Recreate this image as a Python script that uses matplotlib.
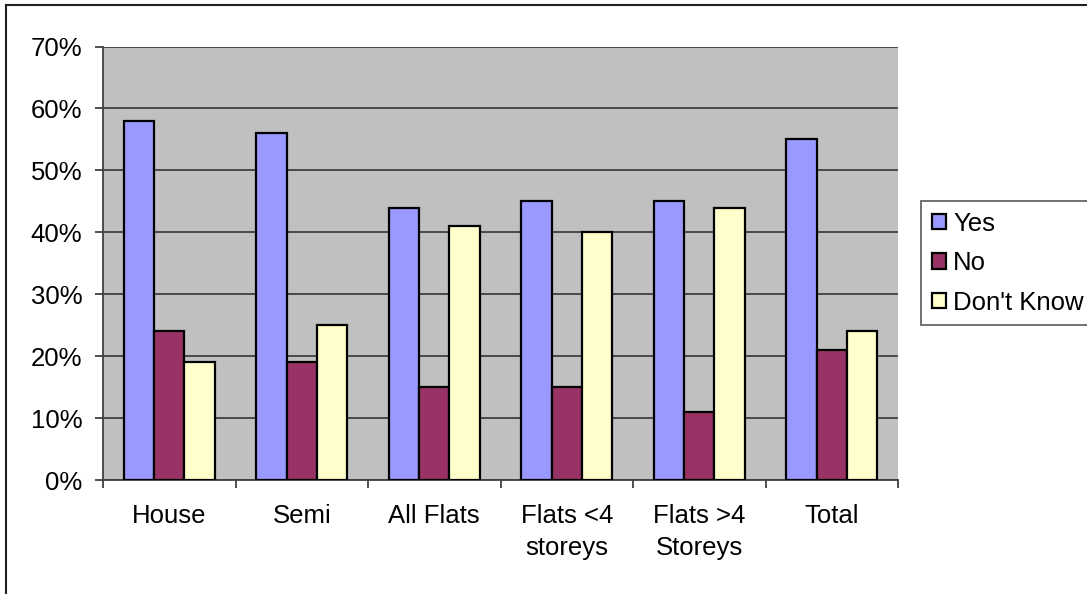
import numpy as np
import matplotlib.pyplot as plt
from matplotlib.patches import Rectangle
from matplotlib.ticker import FixedLocator, PercentFormatter

categories = ["House", "Semi", "All Flats", "Flats <4\nstoreys", "Flats >4\nStoreys", "Total"]
yes = [58, 56, 44, 45, 45, 55]
no = [24, 19, 15, 15, 11, 21]
dont_know = [19, 25, 41, 40, 44, 24]

plt.rcParams["font.family"] = ["Liberation Sans", "DejaVu Sans"]

fig = plt.figure(figsize=(10.87, 5.94), dpi=100)
ax = fig.add_axes([103 / 1087, 1 - 480 / 594, 795 / 1087, 433.5 / 594])

x = np.arange(len(categories))
w = 0.229
ax.bar(x - w, yes, w, color="#9999FF", edgecolor="black", lw=1.6, label="Yes", zorder=3)
ax.bar(x, no, w, color="#993366", edgecolor="black", lw=1.6, label="No", zorder=3)
ax.bar(x + w, dont_know, w, color="#FFFFCC", edgecolor="black", lw=1.6, label="Don't Know", zorder=3)

ax.set_facecolor("#C0C0C0")
ax.set_xlim(-0.5, len(categories) - 0.5)
ax.set_ylim(0, 70)
ax.set_yticks(range(0, 71, 10))
ax.yaxis.set_major_formatter(PercentFormatter(decimals=0))
ax.grid(axis="y", color="#404040", lw=1.3, zorder=1)

ax.set_xticks(x)
ax.set_xticklabels(categories, linespacing=1.45)
ax.xaxis.set_minor_locator(FixedLocator(np.arange(-0.5, len(categories), 1)))
ax.tick_params(axis="x", which="major", length=0, pad=17, labelsize=18.5)
ax.tick_params(axis="x", which="minor", length=6, width=1.3, color="#404040")
ax.tick_params(axis="y", length=6, width=1.3, color="#404040", pad=9, labelsize=18.5)

for s in ["top", "right"]:
    ax.spines[s].set_visible(False)
for s in ["left", "bottom"]:
    ax.spines[s].set_color("#404040")
    ax.spines[s].set_linewidth(1.3)

leg = fig.legend(loc="upper left", bbox_to_anchor=(921 / 1087, 1 - 201 / 594),
                 fontsize=18.5, frameon=True, fancybox=False, handlelength=0.55,
                 handleheight=0.55, handletextpad=0.28, labelspacing=0.6,
                 borderpad=0.42, borderaxespad=0)
leg.get_frame().set_edgecolor("#404040")
leg.get_frame().set_linewidth(1.3)

fig.patches.append(Rectangle((6 / 1087, -0.1), 1.2, 1 - 5 / 594 + 0.1,
                             transform=fig.transFigure, fill=False,
                             edgecolor="#202020", lw=1.5))

fig.savefig("out.png", dpi=100)
